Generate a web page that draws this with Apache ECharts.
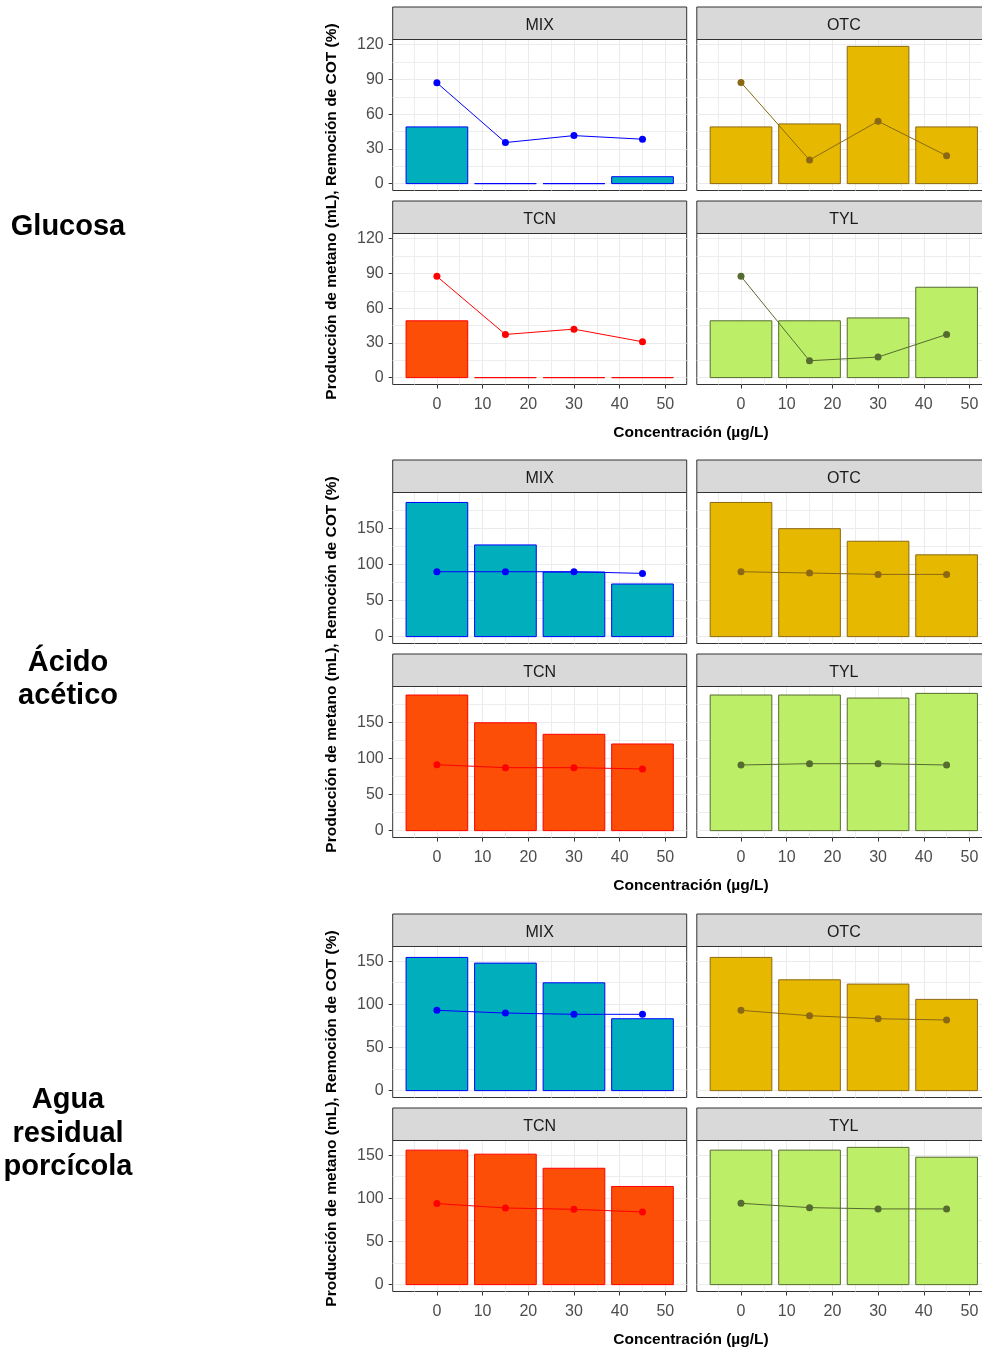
<!DOCTYPE html>
<html>
<head>
<meta charset="utf-8">
<script src="https://cdn.jsdelivr.net/npm/echarts@6/dist/echarts.min.js"></script>
<style>
  html, body { margin: 0; padding: 0; background: #ffffff; }
  #chart { width: 982px; height: 1348px; }
</style>
</head>
<body>
<div id="chart"></div>
<script>
// ---- data ----------------------------------------------------------------
const antibiotics = ['MIX', 'OTC', 'TCN', 'TYL'];
const concentrations = [0, 15, 30, 45];          // µg/L
const xTicks = [0, 10, 20, 30, 40, 50];
const substrates = ['Glucosa', 'Ácido\nacético', 'Agua\nresidual\nporcícola'];

const glucosaTicks = [0, 30, 60, 90, 120];
const aceticoTicks = [0, 50, 100, 150];
const porcicolaTicks = [0, 50, 100, 150];

// Methane production (mL): rows MIX, OTC, TCN, TYL
const glucosaMetano = [
  [49.0, 0, 0, 6.0],
  [49.0, 51.6, 118.6, 49.0],
  [49.1, 0, 0, 0],
  [49.1, 49.1, 51.6, 78.1]
];
// TOC removal (%): rows MIX, OTC, TCN, TYL
const glucosaCOT = [
  [87.1, 35.5, 41.5, 38.4],
  [87.4, 20.4, 53.9, 24.1],
  [87.5, 37.3, 41.9, 31.0],
  [87.5, 14.6, 17.8, 37.3]
];

const aceticoMetano = [
  [185.8, 127.0, 89.5, 72.9],
  [185.8, 149.5, 132.1, 113.3],
  [187.8, 149.4, 133.4, 120.0],
  [187.8, 187.8, 183.6, 190.1]
];
const aceticoCOT = [
  [89.9, 89.9, 89.9, 87.6],
  [89.9, 88.1, 86.2, 86.2],
  [91.3, 87.2, 87.2, 85.4],
  [90.9, 92.7, 92.7, 90.9]
];

const porcicolaMetano = [
  [154.3, 147.7, 124.9, 83.3],
  [154.3, 128.4, 123.4, 105.7],
  [155.8, 151.1, 134.8, 113.7],
  [155.8, 155.8, 159.0, 147.6]
];
const porcicolaCOT = [
  [93.0, 89.9, 88.4, 88.4],
  [93.0, 86.8, 83.3, 81.8],
  [93.9, 88.8, 87.2, 84.2],
  [94.2, 89.2, 87.7, 87.7]
];

// ---- styles & layout -----------------------------------------------------
const fills   = ['#00AFBB', '#E7B800', '#FC4E07', '#BCEE68'];
const strokes = ['#0000FF', '#8B6914', '#FF0000', '#556B2F'];

const FONT = '"Liberation Sans", Arial, sans-serif';
const groupTops = [7, 460, 914];
const colLeft = [392.7, 696.8];
const PANEL_W = 294;
const STRIP_H = 32.5;
const PANEL_H = 151;
const ROW_STEP = 194;

// bar width: 90 % of the spacing between concentrations
const BAR_W = 0.9 * (concentrations[1] - concentrations[0]);
const xLo = concentrations[0] - BAR_W / 2;
const xHi = concentrations[concentrations.length - 1] + BAR_W / 2;
const xPad = 0.05 * (xHi - xLo);

const groups = [
  { metano: glucosaMetano, cot: glucosaCOT, ticks: glucosaTicks },
  { metano: aceticoMetano, cot: aceticoCOT, ticks: aceticoTicks },
  { metano: porcicolaMetano, cot: porcicolaCOT, ticks: porcicolaTicks }
];

const grid = [], xAxis = [], yAxis = [], series = [], graphic = [];

groups.forEach((g, gi) => {
  const T = groupTops[gi];
  const all = g.metano.flat().concat(g.cot.flat());
  const M = Math.max.apply(null, all);
  const yStep = g.ticks[1] - g.ticks[0];

  antibiotics.forEach((name, ai) => {
    const row = Math.floor(ai / 2), col = ai % 2;
    const idx = grid.length;
    const stripTop = T + row * ROW_STEP;
    const plotTop = stripTop + STRIP_H;

    grid.push({
      left: colLeft[col], top: plotTop, width: PANEL_W, height: PANEL_H,
      show: true, backgroundColor: '#ffffff', borderColor: '#333333', borderWidth: 1,
      outerBoundsMode: 'none', containLabel: false
    });

    xAxis.push({
      type: 'value', gridIndex: idx, position: 'bottom',
      min: xLo - xPad, max: xHi + xPad,
      minInterval: 10, maxInterval: 10,
      axisLine: { show: false, onZero: false },
      axisTick: { show: row === 1, length: 4, customValues: xTicks, lineStyle: { color: '#333333' } },
      axisLabel: { show: row === 1, customValues: xTicks, margin: 12, color: '#4D4D4D',
                   fontSize: 16, fontFamily: FONT },
      splitLine: { show: true, lineStyle: { color: '#EBEBEB', width: 1 } },
      minorTick: { show: false, splitNumber: 2 },
      minorSplitLine: { show: true, lineStyle: { color: '#EDEDED', width: 1 } }
    });

    yAxis.push({
      type: 'value', gridIndex: idx, position: 'left',
      min: -0.05 * M, max: 1.05 * M,
      minInterval: yStep, maxInterval: yStep,
      axisLine: { show: false, onZero: false },
      axisTick: { show: col === 0, length: 4, customValues: g.ticks, lineStyle: { color: '#333333' } },
      axisLabel: { show: col === 0, customValues: g.ticks, margin: 9, color: '#4D4D4D',
                   fontSize: 16, fontFamily: FONT, padding: [5, 0, 0, 0] },
      splitLine: { show: true, lineStyle: { color: '#EBEBEB', width: 1 } },
      minorTick: { show: false, splitNumber: 2 },
      minorSplitLine: { show: true, lineStyle: { color: '#EDEDED', width: 1 } }
    });

    // methane bars
    series.push({
      type: 'custom', xAxisIndex: idx, yAxisIndex: idx, z: 2,
      data: concentrations.map((c, k) => [c, g.metano[ai][k]]),
      renderItem: (params, api) => {
        const x = api.value(0), y = api.value(1);
        const p0 = api.coord([x - BAR_W / 2, y]);
        const p1 = api.coord([x + BAR_W / 2, 0]);
        return {
          type: 'rect',
          shape: { x: p0[0], y: p0[1], width: p1[0] - p0[0], height: p1[1] - p0[1] },
          style: { fill: fills[ai], stroke: strokes[ai], lineWidth: 1 }
        };
      }
    });

    // TOC removal line with points
    series.push({
      type: 'line', xAxisIndex: idx, yAxisIndex: idx, z: 3,
      data: concentrations.map((c, k) => [c, g.cot[ai][k]]),
      symbol: 'circle', symbolSize: 7, showSymbol: true,
      lineStyle: { color: strokes[ai], width: 1 },
      itemStyle: { color: strokes[ai] }
    });

    // facet strip
    graphic.push({
      type: 'rect', z: 10,
      shape: { x: colLeft[col], y: stripTop, width: PANEL_W, height: STRIP_H },
      style: { fill: '#D9D9D9', stroke: '#333333', lineWidth: 1 }
    });
    graphic.push({
      type: 'text', z: 11,
      x: colLeft[col] + PANEL_W / 2, y: stripTop + STRIP_H / 2 + 2,
      style: { text: name, fill: '#1A1A1A', font: '16px ' + FONT,
               align: 'center', verticalAlign: 'middle',
               textAlign: 'center', textVerticalAlign: 'middle' }
    });
  });

  // y-axis title
  graphic.push({
    type: 'text', z: 11,
    x: 332, y: T + 204.5, rotation: Math.PI / 2,
    style: { text: 'Producción de metano (mL), Remoción de COT (%)', fill: '#000000',
             font: 'bold 15.5px ' + FONT,
             align: 'center', verticalAlign: 'middle',
             textAlign: 'center', textVerticalAlign: 'middle' }
  });
  // x-axis title
  graphic.push({
    type: 'text', z: 11,
    x: 691, y: T + 426,
    style: { text: 'Concentración (µg/L)', fill: '#000000', font: 'bold 15.5px ' + FONT,
             align: 'center', verticalAlign: 'middle',
             textAlign: 'center', textVerticalAlign: 'middle' }
  });
});

// substrate labels at the left of each group
const substrateCenters = [227, 679.5, 1133.5];
substrates.forEach((s, i) => {
  graphic.push({
    type: 'text', z: 11,
    x: 68, y: substrateCenters[i],
    style: { text: s, fill: '#000000', font: 'bold 29px ' + FONT, lineHeight: 33.5,
             align: 'center', verticalAlign: 'middle',
             textAlign: 'center', textVerticalAlign: 'middle' }
  });
});

const chart = echarts.init(document.getElementById('chart'), null, { renderer: 'canvas' });
chart.setOption({
  animation: false,
  backgroundColor: '#ffffff',
  grid, xAxis, yAxis, series, graphic
});
</script>
</body>
</html>
